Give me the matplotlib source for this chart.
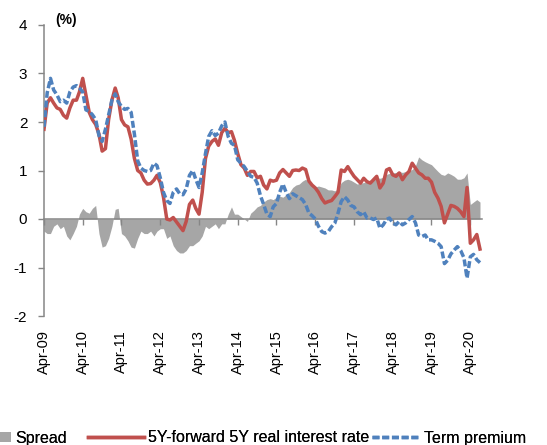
import matplotlib
matplotlib.use("Agg")
import matplotlib.pyplot as plt
import matplotlib.dates as mdates
from matplotlib import font_manager
from matplotlib.patches import Patch
from matplotlib.lines import Line2D
import pandas as pd
import numpy as np

# ---- data (monthly, Apr-2009 .. Jul-2020) ----
start_month = "2009-04-01"
real_rate_5y5y = [
    1.85, 2.39, 2.50, 2.39, 2.29, 2.26, 2.14, 2.08, 2.29, 2.45,
    2.45, 2.62, 2.90, 2.55, 2.20, 2.05, 1.95, 1.75, 1.40, 1.45,
    2.05, 2.45, 2.70, 2.50, 2.05, 1.94, 1.90, 1.65, 1.25, 1.00,
    0.95, 0.80, 0.72, 0.73, 0.80, 0.90, 0.75, 0.45, 0.00, -0.02,
    0.03, -0.06, -0.15, -0.24, -0.05, 0.30, 0.39, 0.22, 0.10, 0.55,
    1.25, 1.50, 1.60, 1.65, 1.52, 1.78, 1.87, 1.78, 1.80, 1.62,
    1.35, 1.12, 1.05, 0.90, 0.98, 0.98, 0.85, 0.88, 0.70, 0.62,
    0.80, 0.78, 0.80, 0.95, 1.02, 0.95, 0.88, 1.00, 1.01, 1.00,
    1.05, 1.02, 0.78, 0.70, 0.64, 0.55, 0.42, 0.33, 0.36, 0.38,
    0.46, 0.55, 1.01, 0.98, 1.08, 0.98, 0.88, 0.81, 0.74, 0.84,
    0.77, 0.74, 0.81, 0.88, 0.64, 0.74, 1.01, 1.04, 0.91, 0.88,
    0.95, 0.81, 0.91, 0.98, 1.15, 1.05, 0.95, 0.91, 0.84, 0.84,
    0.76, 0.55, 0.43, 0.26, -0.08, 0.10, 0.28, 0.26, 0.22, 0.15,
    0.05, 0.65, -0.50, -0.43, -0.32, -0.62,
]
term_premium = [
    1.90, 2.60, 2.90, 2.66, 2.56, 2.42, 2.45, 2.39, 2.62, 2.72,
    2.75, 2.70, 2.62, 2.25, 2.22, 2.15, 2.05, 1.72, 1.60, 1.85,
    2.15, 2.45, 2.58, 2.42, 2.32, 2.26, 2.28, 2.20, 1.75, 1.20,
    1.05, 1.00, 0.98, 1.00, 1.15, 1.10, 0.85, 0.55, 0.38, 0.32,
    0.55, 0.62, 0.52, 0.50, 0.62, 0.90, 1.00, 0.82, 0.65, 0.95,
    1.35, 1.70, 1.82, 1.72, 1.77, 1.92, 2.00, 1.70, 1.56, 1.52,
    1.22, 1.15, 1.08, 0.98, 0.88, 0.86, 0.74, 0.48, 0.30, 0.10,
    0.05, 0.25, 0.32, 0.55, 0.72, 0.55, 0.42, 0.52, 0.48, 0.44,
    0.40, 0.30, 0.12, 0.07, 0.00, -0.15, -0.26, -0.29, -0.26, -0.16,
    -0.09, 0.12, 0.36, 0.46, 0.39, 0.28, 0.25, 0.15, 0.09, 0.15,
    0.02, 0.02, -0.01, 0.02, -0.19, -0.12, -0.01, 0.02, -0.08, -0.12,
    -0.05, -0.12, -0.08, -0.01, 0.05, -0.08, -0.33, -0.36, -0.33, -0.43,
    -0.43, -0.46, -0.50, -0.57, -0.92, -0.85, -0.72, -0.64, -0.57, -0.65,
    -0.80, -1.22, -0.78, -0.73, -0.84, -0.90,
]
spread = [
    -0.25, -0.30, -0.30, -0.15, -0.10, -0.20, -0.15, -0.35, -0.43, -0.30,
    -0.15, 0.10, 0.22, 0.15, 0.12, 0.22, 0.28, -0.30, -0.58, -0.55,
    -0.40, -0.15, 0.20, 0.22, -0.30, -0.35, -0.45, -0.58, -0.60, -0.40,
    -0.25, -0.30, -0.30, -0.25, -0.35, -0.25, -0.20, -0.20, -0.40, -0.35,
    -0.55, -0.65, -0.70, -0.70, -0.65, -0.55, -0.55, -0.50, -0.45, -0.35,
    -0.15, -0.20, -0.15, -0.10, -0.20, -0.10, -0.10, 0.10, 0.25, 0.10,
    0.10, 0.05, 0.00, -0.05, 0.12, 0.18, 0.25, 0.28, 0.35, 0.40,
    0.42, 0.40, 0.45, 0.47, 0.45, 0.50, 0.55, 0.65, 0.70, 0.72,
    0.78, 0.82, 0.75, 0.68, 0.66, 0.68, 0.66, 0.64, 0.60, 0.60,
    0.58, 0.62, 0.75, 0.80, 0.82, 0.80, 0.76, 0.72, 0.74, 0.75,
    0.78, 0.80, 0.82, 0.85, 0.84, 0.86, 0.92, 0.94, 0.95, 0.96,
    0.98, 0.96, 0.98, 1.00, 1.02, 1.10, 1.28, 1.22, 1.18, 1.15,
    1.12, 1.05, 0.98, 0.92, 0.90, 0.95, 0.92, 0.88, 0.82, 0.82,
    0.85, 0.95, 0.30, 0.35, 0.40, 0.35,
]
tick_years = list(range(2009, 2021))
y_ticks = [-2, -1, 0, 1, 2, 3, 4]
series_labels = ["Spread", "5Y-forward 5Y real interest rate", "Term premium"]

# ---- style ----
plt.rcParams["axes.unicode_minus"] = False
names = {f.name for f in font_manager.fontManager.ttflist}
base_font = "Liberation Sans" if "Liberation Sans" in names else "DejaVu Sans"
narrow_font = "Liberation Sans Narrow" if "Liberation Sans Narrow" in names else base_font
plt.rcParams["font.family"] = [base_font, "DejaVu Sans"]

RED = "#C0504D"
BLUE = "#4F81BD"
GREY = "#A6A6A6"
AXIS = "#868686"
LW = 2.5
DASH = (0, (2.0, 0.8))

dates = pd.date_range(start_month, periods=len(real_rate_5y5y), freq="MS")
x = mdates.date2num(dates.to_pydatetime())
tick_pos = mdates.date2num([pd.Timestamp(f"{yr}-04-01").to_pydatetime() for yr in tick_years])
tick_lab = [pd.Timestamp(f"{yr}-04-01").strftime("%b-%y") for yr in tick_years]

fig = plt.figure(figsize=(5.47, 4.45), dpi=100)
ax = fig.add_axes([44 / 547, 129 / 445, (482 - 44) / 547, (316 - 25) / 445])

ax.fill_between(x, 0, spread, color=GREY, lw=0, zorder=1)
ax.plot(x, real_rate_5y5y, color=RED, lw=LW, zorder=3)
ax.plot(x, term_premium, color=BLUE, lw=LW, ls=DASH, zorder=4)

ax.set_xlim(tick_pos[0], mdates.date2num(pd.Timestamp("2020-07-20").to_pydatetime()))
ax.set_ylim(-2, 4)
ax.set_yticks(y_ticks)
ax.set_yticklabels([str(v) for v in y_ticks])

for s in ("top", "right"):
    ax.spines[s].set_visible(False)
ax.spines["left"].set_color(AXIS)
ax.spines["left"].set_linewidth(1.1)
ax.spines["bottom"].set_position(("data", 0))
ax.spines["bottom"].set_color(AXIS)
ax.spines["bottom"].set_linewidth(1.1)
ax.spines["bottom"].set_zorder(2)

ax.set_xticks(tick_pos)
ax.tick_params(axis="x", direction="out", length=4, width=1, color=AXIS,
               labelbottom=False)
ax.tick_params(axis="y", direction="out", length=4, width=1, color=AXIS,
               labelsize=11, pad=8)

sec = ax.secondary_xaxis("bottom")
sec.spines["bottom"].set_visible(False)
sec.set_xticks(tick_pos)
sec.set_xticklabels(tick_lab, rotation=90, family=[narrow_font, "DejaVu Sans"])
sec.tick_params(axis="x", length=0, pad=10, labelsize=10.5)

fig.text(66 / 547, 1 - 20 / 445, "(%)", ha="center", va="center",
         fontsize=10, fontweight="bold")

# ---- legend (three entries spread across the bottom) ----
leg_y = 1 - 438 / 445
h1 = Patch(facecolor=GREY, edgecolor="none")
h2 = Line2D([], [], color=RED, lw=LW)
h3 = Line2D([], [], color=BLUE, lw=LW, ls=DASH)
specs = [(h1, series_labels[0], -2 / 547, 0.8, 0.6),
         (h2, series_labels[1], 88 / 547, 3.5, 0.7),
         (h3, series_labels[2], 372 / 547, 3.0, 0.7)]
for h, lab, x0, hl, hh in specs:
    lg = fig.legend([h], [lab], loc="center left", bbox_to_anchor=(x0, leg_y),
                    frameon=False, fontsize=11.5, handlelength=hl, handleheight=hh,
                    handletextpad=0.25, borderpad=0, borderaxespad=0)
    fig.add_artist(lg)

fig.savefig("out.png", dpi=100)
